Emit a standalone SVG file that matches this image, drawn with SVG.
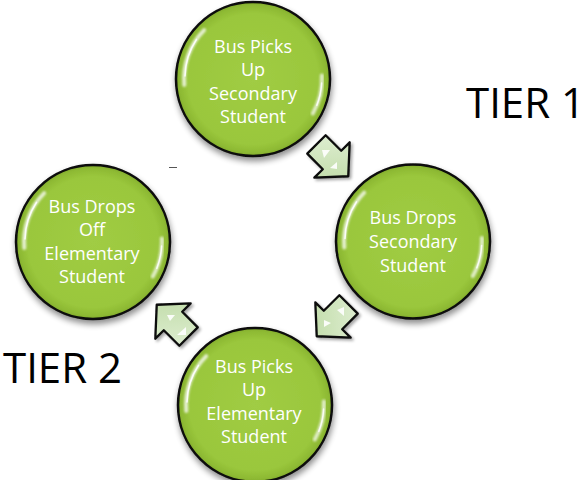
<svg xmlns="http://www.w3.org/2000/svg" xmlns:xlink="http://www.w3.org/1999/xlink" width="587" height="480" viewBox="0 0 587 480">
<style>
.lbl{font-family:"Open Sans","Liberation Sans",sans-serif;font-size:18px;fill:#ffffff;text-anchor:middle}
.tier{font-family:"Open Sans","Liberation Sans",sans-serif;font-size:42px;fill:#000000}
.ball{fill:url(#gBall);stroke:#0a0a0a;stroke-width:2.5}
.hl{fill:none;stroke:#ffffff;stroke-linecap:round}
.arr{fill:url(#gArr);stroke:#0a0a0a;stroke-width:2.3;stroke-linejoin:round}
.spark{fill:#ffffff;opacity:0.9}
</style>
<defs>
<radialGradient id="gBall" cx="0.5" cy="0.5" r="0.5">
<stop offset="0" stop-color="#a0cc44"/>
<stop offset="0.85" stop-color="#9ac73c"/>
<stop offset="0.96" stop-color="#8db933"/>
<stop offset="1" stop-color="#7fa82a"/>
</radialGradient>
<linearGradient id="gArr" x1="0" y1="0" x2="1" y2="1">
<stop offset="0" stop-color="#e2f0d6"/>
<stop offset="1" stop-color="#bcd9a2"/>
</linearGradient>
<filter id="shadow" x="-20%" y="-20%" width="140%" height="145%">
<feGaussianBlur in="SourceAlpha" stdDeviation="3"/>
<feOffset dx="1" dy="4" result="b"/>
<feComponentTransfer><feFuncA type="linear" slope="0.45"/></feComponentTransfer>
<feMerge><feMergeNode/><feMergeNode in="SourceGraphic"/></feMerge>
</filter>
<filter id="ashadow" x="-30%" y="-30%" width="160%" height="160%">
<feGaussianBlur in="SourceAlpha" stdDeviation="1.5"/>
<feOffset dx="1.5" dy="2" result="b"/>
<feComponentTransfer><feFuncA type="linear" slope="0.35"/></feComponentTransfer>
<feMerge><feMergeNode/><feMergeNode in="SourceGraphic"/></feMerge>
</filter>
<filter id="soft" x="-20%" y="-20%" width="140%" height="140%">
<feGaussianBlur stdDeviation="1.3"/>
</filter>
<g id="ballShape">
<circle class="ball" cx="0" cy="0" r="77" filter="url(#shadow)"/>
<path class="hl" d="M -68.7,6 A69,69 0 0 1 -48.8,-48.8" stroke-width="4" opacity="0.75" filter="url(#soft)"/>
<path class="hl" d="M -68,-3 A69,69 0 0 1 -56.5,-39.6" stroke-width="1.6" opacity="0.9"/>
<path class="hl" d="M 68.9,-3.6 A69,69 0 0 1 59.8,34.5" stroke-width="4" opacity="0.7" filter="url(#soft)"/>
<path class="hl" d="M 68.6,4 A69,69 0 0 1 63.8,26.4" stroke-width="1.5" opacity="0.85"/>
</g>
<path id="arrShape" class="arr" d="M-22,-13 H0 V-25 L23,0 L0,25 V13 H-22 Z"/>
</defs>

<g id="tier1"><text class="tier" x="466" y="118">TIER 1</text></g>
<g id="tier2"><text class="tier" x="3" y="383">TIER 2</text></g>

<g id="mark"><line x1="169" y1="167.5" x2="177" y2="167.5" stroke="#555" stroke-width="1"/></g>

<g id="connectors">
<g id="arrow1" filter="url(#ashadow)">
<use xlink:href="#arrShape" transform="translate(332,160) rotate(45)"/>
<polygon class="spark" points="322,150 330,150 324,158"/>
<polygon class="spark" points="337,162 337,169 330,168"/>
</g>
<g id="arrow2" filter="url(#ashadow)">
<use xlink:href="#arrShape" transform="translate(333,320) rotate(135)"/>
<polygon class="spark" points="337,310 344,307 344,316"/>
<polygon class="spark" points="324,320 331,323 324,327"/>
</g>
<g id="arrow3" filter="url(#ashadow)">
<use xlink:href="#arrShape" transform="translate(173,321) rotate(225)"/>
<polygon class="spark" points="167,315 175,315 170,321"/>
<polygon class="spark" points="186,327 186,335 177,335"/>
</g>
</g>

<g id="node-top">
<use xlink:href="#ballShape" transform="translate(253,79)"/>
<text class="lbl" x="253" y="53">Bus Picks</text>
<text class="lbl" x="253" y="76.3">Up</text>
<text class="lbl" x="253" y="99.6">Secondary</text>
<text class="lbl" x="253" y="123">Student</text>
</g>

<g id="node-right">
<use xlink:href="#ballShape" transform="translate(413,241.5)"/>
<text class="lbl" x="413" y="223.5">Bus Drops</text>
<text class="lbl" x="413" y="247.5">Secondary</text>
<text class="lbl" x="413" y="271.5">Student</text>
</g>

<g id="node-bottom">
<use xlink:href="#ballShape" transform="translate(255,405)"/>
<text class="lbl" x="254" y="373">Bus Picks</text>
<text class="lbl" x="254" y="396.3">Up</text>
<text class="lbl" x="254" y="419.6">Elementary</text>
<text class="lbl" x="254" y="443">Student</text>
</g>

<g id="node-left">
<use xlink:href="#ballShape" transform="translate(93,242)"/>
<text class="lbl" x="92" y="213">Bus Drops</text>
<text class="lbl" x="92" y="236.3">Off</text>
<text class="lbl" x="92" y="259.6">Elementary</text>
<text class="lbl" x="92" y="283">Student</text>
</g>
</svg>
